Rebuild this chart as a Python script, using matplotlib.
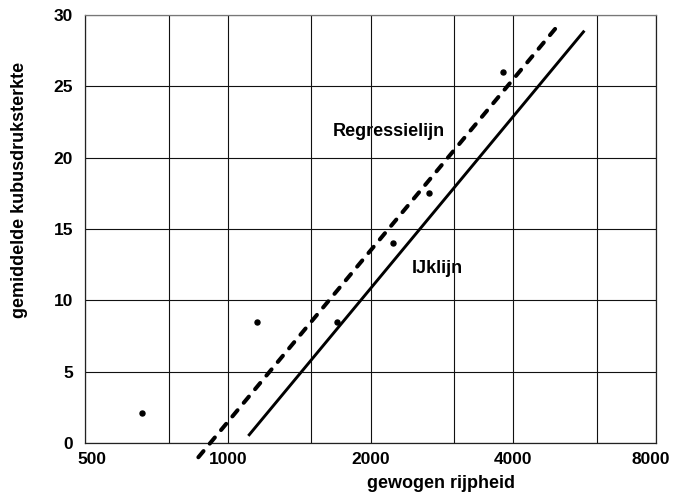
import matplotlib
matplotlib.use("Agg")
import matplotlib.pyplot as plt
from matplotlib.ticker import FixedLocator, NullFormatter
from matplotlib.transforms import ScaledTranslation

plt.rcParams['font.family'] = ['Liberation Sans', 'DejaVu Sans']

# Data
x_points = [660, 1150, 1700, 2230, 2660, 3800]
y_points = [2.1, 8.5, 8.5, 14.0, 17.5, 26.0]

regressie_x = [867, 4980]
regressie_y = [-1.0, 29.3]

ijk_x = [1105, 5650]
ijk_y = [0.5, 28.9]

x_ticks = [500, 1000, 2000, 4000, 8000]
x_tick_labels = ['500', '1000', '2000', '4000', '8000']
x_minor_grid = [750, 1500, 3000, 6000]
y_ticks = [0, 5, 10, 15, 20, 25, 30]

W, H = 673, 495
fig = plt.figure(figsize=(W / 100, H / 100), dpi=100)
ax = fig.add_axes([85 / W, 1 - 443 / H, (656 - 85) / W, (443 - 15) / H])

ax.set_xscale('log')
ax.set_xlim(500, 8000)
ax.set_ylim(0, 30)

ax.xaxis.set_major_locator(FixedLocator(x_ticks))
ax.xaxis.set_minor_locator(FixedLocator(x_minor_grid))
ax.set_xticks(x_ticks)
ax.set_xticklabels(x_tick_labels)
ax.xaxis.set_minor_formatter(NullFormatter())
ax.set_yticks(y_ticks)
ax.set_yticklabels([str(v) for v in y_ticks])

ax.tick_params(axis='both', which='both', length=0)
ax.tick_params(axis='x', pad=6.5, labelsize=12.5)
ax.tick_params(axis='y', pad=8.5, labelsize=12.5)
for lab in ax.get_xticklabels() + ax.get_yticklabels():
    lab.set_fontweight('bold')

# nudge first and last x tick labels like the reference
xl = ax.get_xticklabels()
xl[0].set_transform(xl[0].get_transform() + ScaledTranslation(7 / 100, 0, fig.dpi_scale_trans))
xl[-1].set_transform(xl[-1].get_transform() + ScaledTranslation(-5 / 100, 0, fig.dpi_scale_trans))

ax.set_axisbelow('line')
ax.grid(True, which='both', axis='x', color='#111111', linewidth=0.8)
ax.grid(True, which='major', axis='y', color='#111111', linewidth=0.8)

for side in ['left', 'bottom', 'right']:
    ax.spines[side].set_color('#222222')
    ax.spines[side].set_linewidth(0.9)
ax.spines['top'].set_color('#777777')
ax.spines['top'].set_linewidth(0.9)

# Regression line (dashed)
ax.plot(regressie_x, regressie_y, color='black', linewidth=2.9,
        dashes=(2.0, 2.4), dash_capstyle='round', clip_on=False, zorder=3)
# Calibration line (solid)
ax.plot(ijk_x, ijk_y, color='black', linewidth=2.1,
        solid_capstyle='butt', clip_on=False, zorder=3)

# Data points
ax.plot(x_points, y_points, linestyle='none', marker='o', markersize=3.6,
        color='black', zorder=3)

# Annotations
ax.text(2188, 21.8, 'Regressielijn', fontsize=13, fontweight='bold',
        ha='center', va='center', zorder=1)
ax.text(2762, 12.2, 'IJklijn', fontsize=13, fontweight='bold',
        ha='center', va='center', zorder=1)

fig.text(441 / W, 1 - 484 / H, 'gewogen rijpheid', fontsize=13,
         fontweight='bold', ha='center', va='center')
fig.text(20 / W, 1 - 190 / H, 'gemiddelde kubusdruksterkte', fontsize=13,
         fontweight='bold', ha='center', va='center', rotation=90)

fig.savefig('out.png', dpi=100)
